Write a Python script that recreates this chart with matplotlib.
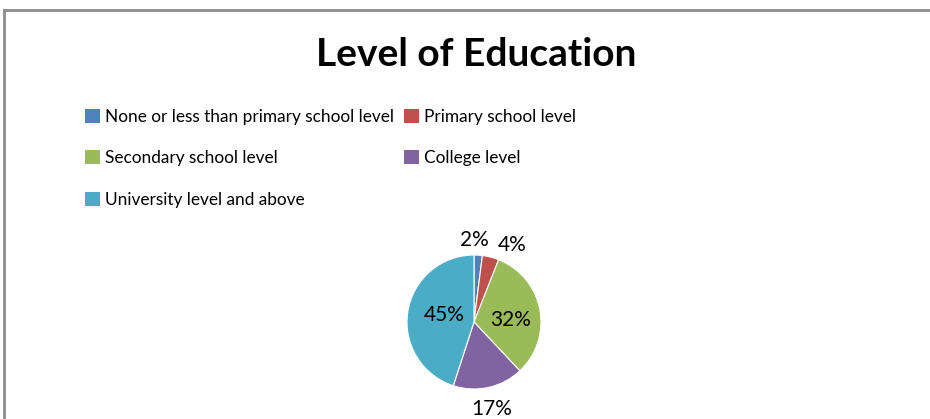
import numpy as np
import matplotlib.pyplot as plt
from matplotlib.lines import Line2D
from matplotlib.patches import Patch

categories = ["None or less than primary school level", "Primary school level",
              "Secondary school level", "College level", "University level and above"]
shares = [2, 4, 32, 17, 45]
colors = ["#4F81BD", "#C0504D", "#9BBB59", "#8064A2", "#4BACC6"]

# label placement per slice: radius as fraction of pie radius, angle nudge in degrees
label_r = [1.22, 1.28, 0.55, 1.32, 0.46]
label_nudge = [3, -12, -8, -1, -5]

plt.rcParams['font.family'] = ['Lato', 'DejaVu Sans']

fig = plt.figure(figsize=(9.3, 4.19), dpi=100)
W, H = 930, 419

# chart frame (top and left edges only)
fig.add_artist(Line2D([4 / W, 1], [1 - 10 / H, 1 - 10 / H], color="#8c8c8c", lw=2))
fig.add_artist(Line2D([4 / W, 4 / W], [0, 1 - 10 / H], color="#8c8c8c", lw=2))

fig.text(476 / W, 1 - 54 / H, "Level of Education", ha="center", va="center",
         fontsize=28, fontweight="bold")

# pie axes, centre (474, 322) px, radius ~67 px
r = 67
ax = fig.add_axes([(474 - r) / W, (H - 322 - r) / H, 2 * r / W, 2 * r / H])
wedges, _ = ax.pie(shares, colors=colors, startangle=90, counterclock=False,
                   wedgeprops=dict(linewidth=0.8, edgecolor="white"))
ax.set_xlim(-1, 1)
ax.set_ylim(-1, 1)
ax.set_aspect("equal")

for w, v, lr, dn in zip(wedges, shares, label_r, label_nudge):
    mid = np.deg2rad((w.theta1 + w.theta2) / 2 + dn)
    ax.text(lr * np.cos(mid), lr * np.sin(mid), f"{v}%", ha="center", va="center",
            fontsize=15, clip_on=False)

# legend: three rows, second column starts at x=405 px
handles = [Patch(facecolor=c, edgecolor="none") for c in colors]
slots = [(85, 117), (404, 117), (85, 158), (404, 158), (85, 200)]
for h, lab, (lx, ly) in zip(handles, categories, slots):
    fig.legend([h], [lab], loc="center left", bbox_to_anchor=(lx / W, 1 - ly / H),
               frameon=False, fontsize=12.4, handlelength=0.85, handleheight=0.85,
               handletextpad=0.3, borderpad=0, borderaxespad=0)

fig.savefig("out.png", dpi=100, facecolor="white")
